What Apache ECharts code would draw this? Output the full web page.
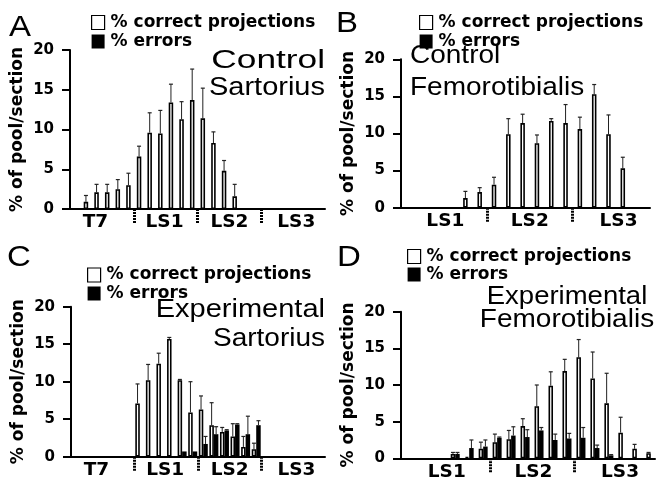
<!DOCTYPE html>
<html><head><meta charset="utf-8">
<script src="https://cdn.jsdelivr.net/npm/echarts@6.0.0/dist/echarts.min.js"></script>
<style>html,body{margin:0;padding:0;background:#fff}#c{width:660px;height:477px}</style>
</head><body><div id="c"></div>
<script>
// ---------- DATA ----------
const nameCorrect = '% correct projections';
const nameErrors = '% errors';
const yAxisName = '% of pool/section';

// Panel A: Control Sartorius (section positions along the cord)
const aSections = [1, 2, 3, 4, 5, 6, 7, 8, 9, 10, 11, 12, 13, 14, 15];
const aCorrect  = [0.9, 2.1, 2.1, 2.5, 3.0, 6.6, 9.6, 9.5, 13.4, 11.3, 13.7, 11.4, 8.3, 4.8, 1.6];
const aCorrectSD = [0.8, 1.0, 1.0, 1.2, 1.5, 1.3, 2.5, 2.9, 2.3, 2.2, 3.9, 3.8, 1.4, 1.3, 1.5];

// Panel B: Control Femorotibialis
const bSections = [4, 5, 6, 7, 8, 9, 10, 11, 12, 13, 14, 15];
const bCorrect  = [1.3, 2.1, 3.1, 9.9, 11.4, 8.7, 11.7, 11.4, 10.6, 15.3, 9.9, 5.3];
const bCorrectSD = [0.9, 0.6, 1.0, 2.1, 1.2, 1.1, 0.3, 2.5, 1.6, 1.3, 2.6, 1.5];

// Panel C: Experimental Sartorius
const cSections = [6, 7, 8, 9, 10, 11, 12, 13, 14, 15, 16, 17];
const cCorrect  = [7.1, 10.2, 12.4, 15.7, 10.2, 5.9, 6.3, 4.2, 3.3, 2.7, 1.3, 1.0];
const cCorrectSD = [2.6, 2.1, 1.4, 0.2, 0.1, 4.1, 1.8, 3.0, 0.6, 1.7, 1.4, 0.8];
const cErrors   = [0, 0, 0, 0, 0.7, 0.7, 1.7, 3.0, 3.5, 4.3, 3.0, 4.2];
const cErrorsSD = [0, 0, 0, 0, 0, 0, 1.0, 1.0, 0.1, 0.1, 2.4, 0.6];

// Panel D: Experimental Femorotibialis
const dSections = [3, 4, 5, 6, 7, 8, 9, 10, 11, 12, 13, 14, 15, 16, 17];
const dCorrect  = [0.6, 0.2, 1.3, 2.2, 2.6, 4.4, 7.1, 9.9, 11.9, 13.8, 10.9, 7.5, 3.5, 1.3, 0.7];
const dCorrectSD = [0.2, 0, 0.9, 1.1, 1.2, 1.0, 2.9, 1.9, 1.6, 2.4, 3.6, 4.1, 2.1, 0.6, 0.1];
const dErrors   = [0.6, 1.4, 1.6, 2.8, 3.1, 2.9, 3.8, 2.5, 2.7, 2.8, 1.4, 0.4, 0, 0, 0];
const dErrorsSD = [0.2, 1.1, 0.9, 0.1, 1.2, 1.0, 0.4, 0.8, 0.7, 1.4, 0.4, 0.1, 0, 0, 0];

// Tick labels (segment names) and their positions; separator positions
const acSegNames = ['T7', 'LS1', 'LS2', 'LS3'];
const acSegPos = [1.9, 8.4, 14.5, 20.8];
const acSepPos = [5.5, 11.5, 17.5];
const bdSegNames = ['LS1', 'LS2', 'LS3'];
const bSegPos = [2.6, 8.5, 14.7];
const dSegPos = [2.4, 8.6, 14.8];
const bdSepPos = [5.5, 11.5];

// ---------- CHART ----------
const chart = echarts.init(document.getElementById('c'), null, {renderer: 'canvas'});
const boldFont = 'DejaVu Sans';
const titleFont = 'Liberation Sans';

const grids = [
  {left: 70, top: 50, width: 255, height: 159},
  {left: 401, top: 59.3, width: 249, height: 148.4},
  {left: 71, top: 306.7, width: 254, height: 150},
  {left: 401, top: 311.7, width: 254, height: 146.6}
].map(g => Object.assign(g, {containLabel: false, outerBoundsMode: 'none'}));
const xRanges = [[-0.5, 23.5], [-0.5, 16.9], [-0.5, 23.5], [-0.88, 17.3]];
const xLabels = [[acSegNames, acSegPos], [bdSegNames, bSegPos], [acSegNames, acSegPos], [bdSegNames, dSegPos]];
const xSeps = [acSepPos, bdSepPos, acSepPos, bdSepPos];

function makeX(i) {
  const names = xLabels[i][0], pos = xLabels[i][1];
  return {
    type: 'value', gridIndex: i, min: xRanges[i][0], max: xRanges[i][1],
    axisLine: {show: true, onZero: false, lineStyle: {color: '#000', width: 2}},
    axisTick: {show: true, customValues: xSeps[i], length: 14, inside: false,
      lineStyle: {color: '#000', width: 3, type: [2, 1]}},
    axisLabel: {show: true, customValues: pos, margin: 4,
      formatter: function (v) {
        let best = 0;
        for (let k = 0; k < pos.length; k++) if (Math.abs(pos[k] - v) < Math.abs(pos[best] - v)) best = k;
        return names[best];
      },
      color: '#000', fontFamily: boldFont, fontWeight: 'bold', fontSize: 18.5},
    splitLine: {show: false}
  };
}
function makeY(i) {
  return {
    type: 'value', gridIndex: i, min: 0, max: 20, interval: 5,
    axisLine: {show: true, onZero: false, lineStyle: {color: '#000', width: 2}},
    axisTick: {show: true, length: 8, lineStyle: {color: '#000', width: 2}},
    axisLabel: {color: '#000', fontFamily: boldFont, fontWeight: 'bold', fontSize: 15, margin: 16},
    splitLine: {show: false},
    name: yAxisName, nameLocation: 'middle', nameGap: 44,
    nameTextStyle: {color: '#000', fontFamily: boldFont, fontWeight: 'bold', fontSize: 17}
  };
}

const whiteStyle = {color: '#fff', borderColor: '#000', borderWidth: 1.6};
const blackStyle = {color: '#000'};

function barSeries(i, name, xs, vals, style, w) {
  return {type: 'bar', name: name, xAxisIndex: i, yAxisIndex: i,
    data: xs.map((x, k) => [x, vals[k]]), barWidth: w, barGap: '0%',
    itemStyle: style, silent: true, z: 2};
}
function errSeries(i, xs, vals, sds, dx) {
  return {type: 'custom', xAxisIndex: i, yAxisIndex: i, silent: true, z: 3,
    data: xs.map((x, k) => [x, vals[k], vals[k] + sds[k]]),
    encode: {x: 0, y: [1, 2]},
    renderItem: function (params, api) {
      const x = api.value(0), v = api.value(1), t = api.value(2);
      if (!(t > v)) return null;
      const p0 = api.coord([x, v]), p1 = api.coord([x, t]);
      const cx = p0[0] + dx;
      return {type: 'group', children: [
        {type: 'line', shape: {x1: cx, y1: p0[1], x2: cx, y2: p1[1]}, style: {stroke: '#222', lineWidth: 1}},
        {type: 'line', shape: {x1: cx - 2, y1: p1[1], x2: cx + 2, y2: p1[1]}, style: {stroke: '#222', lineWidth: 1.2}}
      ]};
    }
  };
}

const series = [
  barSeries(0, nameCorrect, aSections, aCorrect, whiteStyle, 4.5),
  errSeries(0, aSections, aCorrect, aCorrectSD, 0),
  barSeries(1, nameCorrect, bSections, bCorrect, whiteStyle, 4.5),
  errSeries(1, bSections, bCorrect, bCorrectSD, 0),
  barSeries(2, nameCorrect, cSections, cCorrect, whiteStyle, 4.5),
  barSeries(2, nameErrors, cSections, cErrors, blackStyle, 4.5),
  errSeries(2, cSections, cCorrect, cCorrectSD, -2.25),
  errSeries(2, cSections, cErrors, cErrorsSD, 2.25),
  barSeries(3, nameCorrect, dSections, dCorrect, whiteStyle, 4.5),
  barSeries(3, nameErrors, dSections, dErrors, blackStyle, 4.5),
  errSeries(3, dSections, dCorrect, dCorrectSD, -2.25),
  errSeries(3, dSections, dErrors, dErrorsSD, 2.25)
];

function legendAt(left, top, gap) {
  return {
    left: left, top: top, orient: 'vertical', itemGap: gap, itemWidth: 13, itemHeight: 14,
    padding: 0, icon: 'rect', selectedMode: false,
    textStyle: {fontFamily: boldFont, fontWeight: 'bold', fontSize: 17, color: '#000', lineHeight: 14, padding: [0, 0, 0, 1]},
    data: [
      {name: nameCorrect, itemStyle: {color: '#fff', borderColor: '#000', borderWidth: 1.2}},
      {name: nameErrors, itemStyle: {color: '#000', borderWidth: 0}}
    ]
  };
}

const texts = [
  {t: 'A', x: 9, y: 27.5, size: 30, sx: 1.1, align: 'left'},
  {t: 'B', x: 336, y: 24, size: 30, sx: 1.1, align: 'left'},
  {t: 'C', x: 7, y: 257.5, size: 30, sx: 1.1, align: 'left'},
  {t: 'D', x: 337, y: 257.5, size: 30, sx: 1.1, align: 'left'},
  {t: 'Control', x: 325, y: 61, size: 25, sx: 1.41, align: 'right'},
  {t: 'Sartorius', x: 325, y: 88, size: 25, sx: 1.16, align: 'right'},
  {t: 'Control', x: 410, y: 56, size: 25, sx: 1.12, align: 'left'},
  {t: 'Femorotibialis', x: 410, y: 88, size: 25, sx: 1.12, align: 'left'},
  {t: 'Experimental', x: 325, y: 310, size: 25, sx: 1.16, align: 'right'},
  {t: 'Sartorius', x: 325, y: 339, size: 25, sx: 1.12, align: 'right'},
  {t: 'Experimental', x: 567, y: 297, size: 25, sx: 1.1, align: 'center'},
  {t: 'Femorotibialis', x: 567, y: 320, size: 25, sx: 1.12, align: 'center'}
];

chart.setOption({
  animation: false,
  backgroundColor: '#fff',
  grid: grids,
  xAxis: [0, 1, 2, 3].map(makeX),
  yAxis: [0, 1, 2, 3].map(makeY),
  legend: [legendAt(91, 14, 2), legendAt(419, 14, 2), legendAt(87, 266.5, 1.5), legendAt(407, 248, 1)],
  series: series,
  graphic: texts.map(o => ({
    type: 'text', x: o.x, y: o.y, scaleX: o.sx, z: 10, silent: true,
    style: {text: o.t, fontFamily: titleFont, fontSize: o.size, fill: '#000',
      align: o.align, textAlign: o.align, verticalAlign: 'middle', textVerticalAlign: 'middle'}
  }))
});
</script>
</body></html>
